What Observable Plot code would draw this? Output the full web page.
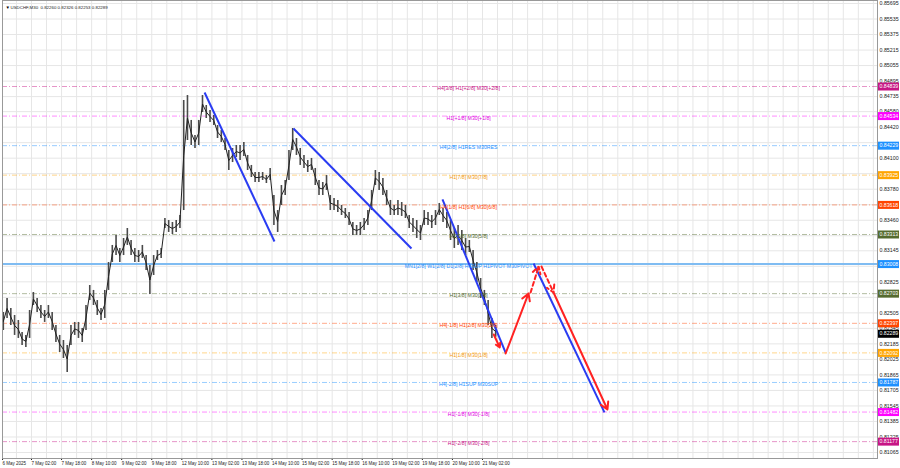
<!DOCTYPE html>
<html><head><meta charset="utf-8">
<script src="https://cdn.jsdelivr.net/npm/d3@7"></script>
<script src="https://cdn.jsdelivr.net/npm/@observablehq/plot@0.6"></script>
<style>body{margin:0;background:#fff}#chart{width:900px;height:468px}</style>
</head><body><div id="chart"></div>
<script>
// ---- data ----
const titleText = "USDCHF,M30  0.82260 0.82326 0.82253 0.82289";
const firstHour = -15, stepHours = 2; // trading hours relative to 7 May 02:00
const hi = [0.82509,0.82653,0.82550,0.82478,0.82426,0.82302,0.82272,0.82529,0.82715,0.82653,
0.82581,0.82529,0.82581,0.82509,0.82375,0.82272,0.82220,0.82168,0.82375,0.82406,
0.82406,0.82344,0.82581,0.82787,0.82736,0.82632,0.82550,0.82736,0.83024,0.83200,
0.83303,0.83169,0.83272,0.83375,0.83251,0.83169,0.83148,0.83200,0.83096,0.82993,
0.83096,0.83148,0.83169,0.83478,0.83457,0.83437,0.83457,0.83509,0.84695,0.84746,
0.84489,0.84334,0.84489,0.84746,0.84643,0.84592,0.84540,0.84437,0.84385,0.84303,
0.84179,0.84200,0.84231,0.84231,0.84262,0.84128,0.84025,0.83952,0.83952,0.83952,
0.83921,0.83994,0.83715,0.83560,0.83818,0.83870,0.84179,0.84406,0.84303,0.84200,
0.84128,0.84076,0.84097,0.83994,0.83870,0.83849,0.83921,0.83715,0.83684,0.83664,
0.83612,0.83581,0.83540,0.83437,0.83406,0.83437,0.83478,0.83560,0.83767,0.83973,
0.83952,0.83890,0.83767,0.83664,0.83612,0.83664,0.83643,0.83612,0.83509,0.83478,
0.83457,0.83406,0.83560,0.83540,0.83509,0.83560,0.83633,0.83581,0.83540,0.83457,
0.83375,0.83406,0.83354,0.83272,0.83251,0.83148,0.83024,0.82859,0.82736,0.82632,
0.82447,0.82375];
const lo = [0.82323,0.82447,0.82375,0.82272,0.82241,0.82168,0.82148,0.82241,0.82581,0.82509,
0.82447,0.82406,0.82447,0.82323,0.82199,0.82096,0.82034,0.81890,0.82168,0.82272,
0.82241,0.82199,0.82323,0.82632,0.82581,0.82478,0.82426,0.82447,0.82736,0.83024,
0.83096,0.83024,0.83096,0.83200,0.83096,0.83024,0.83024,0.83066,0.82942,0.82694,
0.82890,0.83045,0.83066,0.83375,0.83334,0.83313,0.83334,0.83375,0.83560,0.84282,
0.84231,0.84200,0.84231,0.84571,0.84509,0.84468,0.84437,0.84303,0.84262,0.84179,
0.83973,0.84055,0.84107,0.84076,0.84117,0.83973,0.83901,0.83849,0.83849,0.83870,
0.83839,0.83870,0.83406,0.83334,0.83612,0.83715,0.83870,0.84179,0.84128,0.84025,
0.83994,0.83952,0.83973,0.83818,0.83715,0.83715,0.83767,0.83560,0.83560,0.83540,
0.83509,0.83478,0.83406,0.83303,0.83303,0.83303,0.83354,0.83406,0.83560,0.83818,
0.83767,0.83715,0.83612,0.83509,0.83509,0.83509,0.83499,0.83478,0.83375,0.83334,
0.83272,0.83251,0.83406,0.83406,0.83375,0.83406,0.83509,0.83437,0.83375,0.83251,
0.83169,0.83200,0.83148,0.83096,0.83127,0.82942,0.82818,0.82653,0.82581,0.82375,
0.82241,0.82253];

const yTicks = [0.85695,0.85535,0.85375,0.85215,0.85055,0.84895,0.84735,0.84580,0.84420,0.84260,
0.84100,0.83940,0.83780,0.83620,0.83460,0.83300,0.83145,0.82985,0.82825,0.82665,
0.82505,0.82345,0.82185,0.82025,0.81865,0.81705,0.81545,0.81385,0.81225,0.81065];
const xTickHours = [-15.4,0,16,32,48,64,80,96,112,128,144,160,176,192,208,224,240];
const xTickLabels = ["6 May 2025","7 May 02:00","7 May 18:00","8 May 10:00","9 May 02:00","9 May 18:00",
"12 May 10:00","13 May 02:00","13 May 18:00","14 May 10:00","15 May 02:00","15 May 18:00",
"16 May 10:00","19 May 02:00","19 May 18:00","20 May 10:00","21 May 02:00"];

const levelPrices = [0.84839,0.84534,0.84229,0.83925,0.83618,0.83313,0.83008,0.82703,0.82397,0.82092,0.81787,0.81482,0.81177];
const levelLabels = ["H4[3/8] H1[+2/8] M30[+2/8]","H1[+1/8] M30[+1/8]","H4[2/8] H1RES M30RES","H1[7/8] M30[7/8]",
"H4[1/8] H1[6/8] M30[6/8]","H1[5/8] M30[5/8]","MN1[2/8] W1[2/8] D1[2/8] H4SUP H1PIVOT M30PIVOT","H1[3/8] M30[3/8]",
"H4[-1/8] H1[2/8] M30[2/8]","H1[1/8] M30[1/8]","H4[-2/8] H1SUP M30SUP","H1[-1/8] M30[-1/8]","H1[-2/8] M30[-2/8]"];
const levelColors = ["#c71585","#ff00ff","#1e90ff","#ffa500","#ff4500","#556b2f","#1e90ff","#556b2f","#ff4500","#ffa500","#1e90ff","#ff00ff","#c71585"];
const levelTextColors = ["#c71585","#e000e0","#1e90ff","#f29a10","#ff4500","#556b2f","#1e90ff","#556b2f","#ff4500","#f29a10","#1e90ff","#e000e0","#c71585"];
const pivotIndex = 6;
const currentPrice = 0.82289;

const blueX1 = [92.1,139.4,218.7,267.2], blueY1 = [0.84777,0.84406,0.83674,0.83014];
const blueX2 = [129.3,202.2,252.3,304.9], blueY2 = [0.83241,0.83169,0.82096,0.81478];
const redX1 = [246.0,252.3,265.6,271.4,277.8], redY1 = [0.82282,0.82086,0.82715,0.82983,0.82715];
const redX2 = [249.2,264.5,269.9,277.8,306.5], redY2 = [0.82148,0.82705,0.82983,0.82715,0.81508];
const redDashed = [false,false,true,true,false];

// ---- tables ----
const bars = hi.map((h,i)=>({x:firstHour+stepHours*i, hi:h, lo:lo[i], mid:(h+lo[i])/2}));
const labelHour = 232.6;
const levels = levelPrices.map((p,i)=>({price:p, label:levelLabels[i], color:levelColors[i], tcolor:levelTextColors[i], x:labelHour}));
const boxes = levels.map(d=>({price:d.price, color:d.color})).concat([{price:currentPrice, color:"#000000"}]);
const axisTicks = yTicks.filter(t => boxes.every(b => Math.abs(b.price - t) > 0.0004));
const blues = blueX1.map((x,i)=>({x1:x,y1:blueY1[i],x2:blueX2[i],y2:blueY2[i]}));
const reds = redX1.map((x,i)=>({x1:x,y1:redY1[i],x2:redX2[i],y2:redY2[i],dashed:redDashed[i]}));
const vGrid = d3.range(-8, 449, 8);
const tickMap = new Map(xTickHours.map((h,i)=>[h,xTickLabels[i]]));
const boxSym = {draw(ctx){ctx.moveTo(-10.5,-4);ctx.lineTo(10.5,-4);ctx.lineTo(10.5,4);ctx.lineTo(-10.5,4);ctx.closePath();}};

const chart = Plot.plot({
  width: 900, height: 468,
  marginLeft: 2, marginRight: 23, marginTop: 0, marginBottom: 10,
  style: {fontFamily: "Liberation Sans, Arial, sans-serif", fontSize: "5.5px", background: "#fff", color: "#222"},
  x: {domain: [-15.43, 450.2], label: null},
  y: {domain: [0.81003, 0.85726], label: null},
  color: {type: "identity"},
  marks: [
    Plot.ruleX(vGrid, {stroke: "#e6e6e6"}),
    Plot.ruleY(yTicks, {stroke: "#e6e6e6"}),
    Plot.ruleY(levels.filter((d,i)=>i!==pivotIndex), {y: "price", stroke: "color", strokeOpacity: 0.45, strokeDasharray: "5,2,1,2"}),
    Plot.ruleY([levels[pivotIndex]], {y: "price", stroke: "#7fbcf2", strokeWidth: 2}),
    Plot.ruleX(bars, {x: "x", y1: "lo", y2: "hi", stroke: "#4a4a4a", strokeWidth: 1.6}),
    Plot.line(bars, {x: "x", y: "mid", stroke: "#222", strokeWidth: 1}),
    Plot.link(blues, {x1: "x1", y1: "y1", x2: "x2", y2: "y2", stroke: "#2a3cf2", strokeWidth: 2}),
    Plot.arrow(reds.filter(d=>!d.dashed), {x1: "x1", y1: "y1", x2: "x2", y2: "y2", stroke: "#ff2222", strokeWidth: 2, headLength: 6}),
    Plot.arrow(reds.filter(d=>d.dashed), {x1: "x1", y1: "y1", x2: "x2", y2: "y2", stroke: "#ff2222", strokeWidth: 2, headLength: 6, strokeDasharray: "4,3"}),
    Plot.text(levels, {x: "x", y: "price", text: "label", fill: "tcolor", dy: 2, fontSize: 5.2}),
    Plot.axisY({anchor: "right", ticks: axisTicks, tickFormat: d => d.toFixed(5), tickSize: 0, tickPadding: 2, label: null, fontSize: 5.3}),
    Plot.axisX({anchor: "bottom", ticks: xTickHours, tickFormat: d => tickMap.get(d), textAnchor: "start", tickSize: 2, tickPadding: 1, label: null, fontSize: 4.5}),
    Plot.dot(boxes, {y: "price", frameAnchor: "right", dx: 11, symbol: boxSym, fill: "color", stroke: null}),
    Plot.text(boxes, {y: "price", frameAnchor: "right", dx: 2, textAnchor: "start", text: d => d.price.toFixed(5), fill: "white", fontSize: 5.2}),
    Plot.frame({stroke: "#999"}),
    Plot.text(["\u25BC"], {frameAnchor: "top-left", dx: 3, dy: 5, fontSize: 4.5, fill: "#000"}),
    Plot.text([titleText], {frameAnchor: "top-left", dx: 8, dy: 5, textAnchor: "start", fontSize: 4.4, fill: "#222"})
  ]
});
document.getElementById("chart").appendChild(chart);
</script>
</body></html>
